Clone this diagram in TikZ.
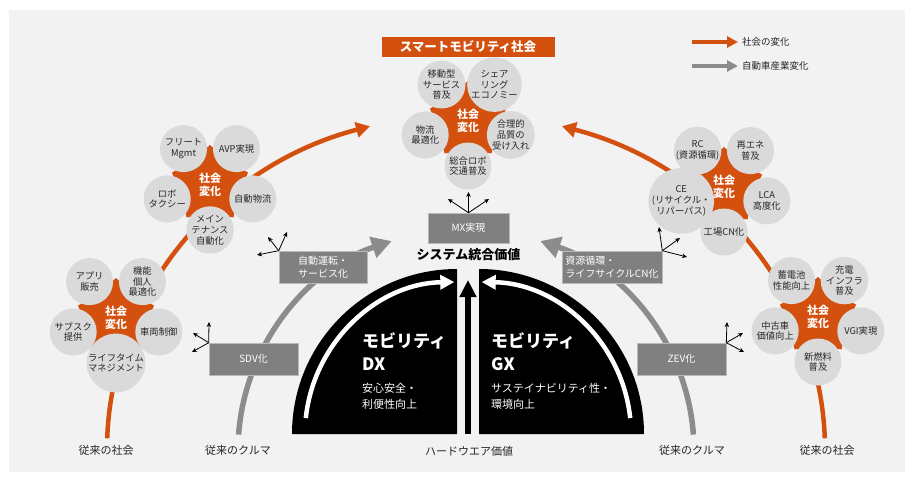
\documentclass[tikz,border=0pt]{standalone}
\usepackage{fontspec}
\setmainfont{Noto Sans CJK JP}
\usetikzlibrary{arrows.meta}
\definecolor{bg}{HTML}{F2F2F2}
\definecolor{org}{HTML}{D4500F}
\definecolor{bub}{HTML}{DADADA}
\definecolor{boxg}{HTML}{808080}
\definecolor{arcg}{HTML}{8C8C8C}
\definecolor{txt}{HTML}{262626}
\tikzset{
 bubble/.style={circle, fill=bub, minimum size=47pt, inner sep=0pt, align=center,
   font=\fontsize{9.3}{10.8}\selectfont, text=txt},
 startxt/.style={align=center, text=white, inner sep=0pt, font=\bfseries\fontsize{11}{13}\selectfont},
 gbox/.style={fill=boxg, draw=gray!55, line width=0.6pt, text=white, inner sep=0pt,
   font=\fontsize{10}{13}\selectfont},
 burst/.style={-{Stealth[length=5pt,width=4.5pt]}, line width=0.8pt, black},
 lbl/.style={font=\fontsize{11}{13}\selectfont, text=txt},
 orgarc/.style={draw=org, line width=4.5pt, -{Triangle[length=14pt,width=15pt]}},
 grayarc/.style={draw=arcg, line width=5.5pt, -{Triangle[length=20pt,width=21pt]}},
 whitearc/.style={draw=white, line width=4.5pt, -{Triangle[length=14pt,width=14pt]}},
}
\newcommand{\mycluster}[7]{%
 \begin{scope}[shift={#2}]
  \fill[org] (-90:40) -- (-54:30) -- (-18:40) -- (18:30) -- (54:40) -- (90:30)
     -- (126:40) -- (162:30) -- (198:40) -- (234:30) -- cycle;
  \node[bubble] (#1ul) at (-126:45) {#3};
  \node[bubble] (#1ur) at (-54:45) {#4};
  \node[bubble] (#1l) at (162:45) {#5};
  \node[bubble] (#1r) at (18:45) {#6};
  \node[bubble] (#1b) at (90:45) {#7};
  \node[startxt] (#1c) at (0,0) {社会\\変化};
 \end{scope}}
\begin{document}
\begin{tikzpicture}[x=1pt,y=-1pt]
\fill[white] (0,0) rectangle (914,482);
\fill[bg] (9,10) rectangle (905,472);
\useasboundingbox (0,0) rectangle (914,482);

% legend
\node[anchor=west, inner sep=0pt, font=\fontsize{9.5}{11}\selectfont, text=txt] (lg1t) at (742,42) {社会の変化};
\node[anchor=west, inner sep=0pt, font=\fontsize{9.5}{11}\selectfont, text=txt] (lg2t) at (742,66) {自動車産業変化};
\coordinate (lg1a) at (692,42);
\coordinate (lg2a) at (692,66);
\draw[org, line width=3.5pt, -{Triangle[length=11pt,width=11pt]}] (lg1a) -- ([xshift=-4pt]lg1t.west);
\draw[arcg, line width=3.5pt, -{Triangle[length=11pt,width=11pt]}] (lg2a) -- ([xshift=-4pt]lg2t.west);

% title
\node[fill=org, text=white, font=\bfseries\fontsize{12.5}{14}\selectfont, minimum width=173pt,
  minimum height=20pt, inner sep=0pt] (title) at (468,46.5) {スマートモビリティ社会};

% big arcs
\coordinate (ol0) at (107.2,438.3);
\coordinate (or0) at (824.8,438.3);
\coordinate (gl0) at (238.6,434.6);
\coordinate (gr0) at (693.4,434.6);
\draw[orgarc] (ol0) arc[start angle=-178, end angle=-105.5, x radius=359, y radius=336];
\draw[orgarc] (or0) arc[start angle=-2, end angle=-74.5, x radius=359, y radius=336];
\draw[grayarc] (gl0) arc[start angle=-176, end angle=-109, x radius=228, y radius=221];
\draw[grayarc] (gr0) arc[start angle=-4, end angle=-71, x radius=228, y radius=221];

% clusters
\mycluster{t}{(468,121)}{移動型\\サービス\\普及}{シェア\\リング\\エコノミー}{物流\\最適化}{合理的\\品質の\\受け入れ}{総合ロボ\\交通普及}
\mycluster{a}{(210,185)}{フリート\\Mgmt}{AVP実現}{ロボ\\タクシー}{自動物流}{メイン\\テナンス\\自動化}
\mycluster{b}{(724,187)}{RC\\(資源循環)}{再エネ\\普及}{CE\\(リサイクル・\\リパーパス)}{LCA\\高度化}{工場CN化}
\mycluster{c}{(116,318)}{アプリ\\販売}{機能\\個人\\最適化}{サブスク\\提供}{車両制御}{ライフタイム\\マネジメント}
\mycluster{d}{(818,317)}{蓄電池\\性能向上}{充電\\インフラ\\普及}{中古車\\価値向上}{VGI実現}{新燃料\\普及}

% gray boxes
\node[gbox, minimum width=81pt, minimum height=30pt] (mx) at (468.5,228) {MX実現};
\node[gbox, minimum width=88pt, minimum height=32pt, align=left] (ad) at (323,267) {自動運転・\\サービス化};
\node[gbox, minimum width=100pt, minimum height=32pt, align=left] (rc) at (612,267) {資源循環・\\ライフサイクルCN化};
\node[gbox, minimum width=89pt, minimum height=32pt] (sdv) at (253.5,359) {SDV化};
\node[gbox, minimum width=89pt, minimum height=32pt] (zev) at (681.5,359) {ZEV化};

% bursts
\coordinate (mx1) at (468.5,192); \coordinate (mx2) at (448,199); \coordinate (mx3) at (489,199);
\draw[burst] (mx.north) -- (mx1); \draw[burst] (mx.north) -- (mx2); \draw[burst] (mx.north) -- (mx3);
\coordinate (ad1) at (257,255); \coordinate (ad2) at (268,237); \coordinate (ad3) at (287,232);
\draw[burst] (ad.north west) -- (ad1); \draw[burst] (ad.north west) -- (ad2); \draw[burst] (ad.north west) -- (ad3);
\coordinate (rc1) at (659,227); \coordinate (rc2) at (680,238); \coordinate (rc3) at (687,257);
\draw[burst] (rc.north east) -- (rc1); \draw[burst] (rc.north east) -- (rc2); \draw[burst] (rc.north east) -- (rc3);
\coordinate (sd1) at (209,322); \coordinate (sd2) at (193,333); \coordinate (sd3) at (192,352);
\draw[burst] (sdv.north west) -- (sd1); \draw[burst] (sdv.north west) -- (sd2); \draw[burst] (sdv.north west) -- (sd3);
\coordinate (ze1) at (727,322); \coordinate (ze2) at (743,333); \coordinate (ze3) at (744,352);
\draw[burst] (zev.north east) -- (ze1); \draw[burst] (zev.north east) -- (ze2); \draw[burst] (zev.north east) -- (ze3);

% black quarter discs
\fill[black] (292,434) arc[start angle=180, end angle=270, radius=165] -- (457,434) -- cycle;
\fill[black] (479,269) arc[start angle=270, end angle=360, radius=165] -- (479,434) -- cycle;
\coordinate (wl0) at (305.8,418.1);
\coordinate (wr0) at (630.2,418.1);
\draw[whitearc] (wl0) arc[start angle=186, end angle=269, radius=152];
\draw[whitearc] (wr0) arc[start angle=354, end angle=271, radius=152];
\coordinate (hw0) at (468,434);
\coordinate (hw1) at (468,280);
\draw[black, line width=6pt, -{Triangle[length=17pt,width=16pt]}] (hw0) -- (hw1);

% texts on black
\node[anchor=west, inner sep=0pt, align=left, text=white, font=\bfseries\fontsize{17}{23}\selectfont] (dx) at (362,351.5) {モビリティ\\DX};
\node[anchor=west, inner sep=0pt, align=left, text=white, font=\fontsize{11}{16}\selectfont] (dxs) at (362,396) {安心安全・\\利便性向上};
\node[anchor=west, inner sep=0pt, align=left, text=white, font=\bfseries\fontsize{17}{23}\selectfont] (gx) at (491,351.5) {モビリティ\\GX};
\node[anchor=west, inner sep=0pt, align=left, text=white, font=\fontsize{11}{16}\selectfont] (gxs) at (491,396) {サステイナビリティ性・\\環境向上};

% other labels
\node[inner sep=0pt, font=\bfseries\fontsize{13}{15}\selectfont] (sys) at (468.5,255) {システム統合価値};
\node[lbl, inner sep=0pt] (hw) at (469,451) {ハードウエア価値};
\node[lbl, inner sep=0pt] (s1) at (106,450) {従来の社会};
\node[lbl, inner sep=0pt] (k1) at (238,450) {従来のクルマ};
\node[lbl, inner sep=0pt] (k2) at (692,450) {従来のクルマ};
\node[lbl, inner sep=0pt] (s2) at (827,450) {従来の社会};
\end{tikzpicture}
\end{document}
